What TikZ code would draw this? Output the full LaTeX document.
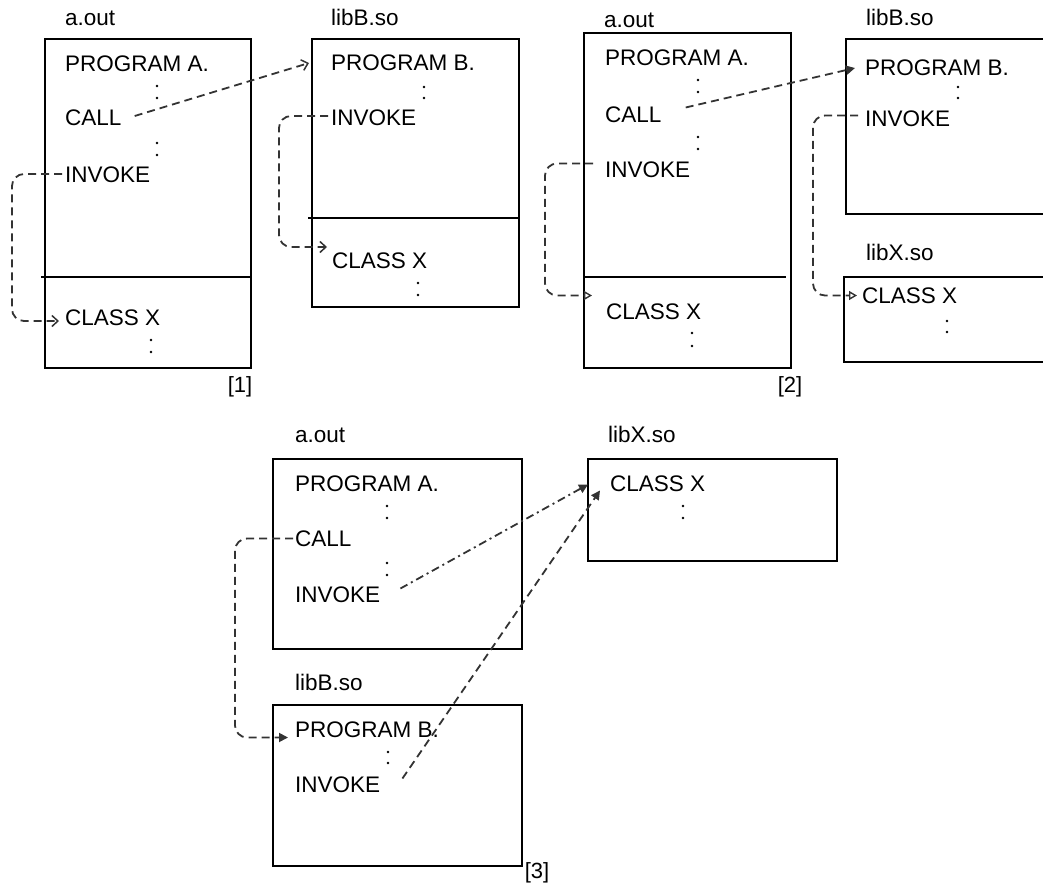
\documentclass[tikz,border=0pt]{standalone}
\usepackage{fontspec}
\setmainfont{Liberation Sans}
\usetikzlibrary{arrows.meta,calc}
\tikzset{
  txt/.style={inner sep=0pt, anchor=base west, text height=16pt, text depth=0pt, font=\fontsize{22.5}{27}\selectfont},
  lbl/.style={inner sep=0pt, anchor=center, font=\fontsize{22}{26}\selectfont},
  box/.style={draw=black, line width=1.9pt},
  conn/.style={draw=black!80, line width=1.8pt, dash pattern=on 8pt off 5pt},
  dashdotconn/.style={draw=black!80, line width=1.8pt, dash pattern=on 8pt off 4pt on 2pt off 4pt},
  elbow/.style={rounded corners=12pt},
  barb/.style={-{Straight Barb[length=6pt,width=11pt,line width=1.5pt]}},
  filltri/.style={-{Triangle[length=9pt,width=9pt]}},
  opentri/.style={-{Triangle[open,length=8pt,width=9pt,line width=1.4pt]}},
  dot/.style={fill=black}
}
\begin{document}
\begin{tikzpicture}[x=1pt,y=-1pt]
\useasboundingbox (0,0) rectangle (1043,885);

% ---------------- Block 1 ----------------
\draw[box] (45,39) rectangle (251,368);
\draw[box] (41,277) -- (251,277);
\draw[box] (312,39) rectangle (519,307);
\draw[box] (308,218) -- (519,218);

\node[txt] (a1lab) at (65,26) {a.out};
\node[txt] (b1lab) at (331,26) {libB.so};
\node[txt] (a1prog) at (65,71.5) {PROGRAM A.};
\node[txt] (a1call) at (65,126) {CALL};
\node[txt] (a1inv) at (65,183) {INVOKE};
\node[txt] (a1cls) at (65,325) {CLASS X};
\node[txt] (b1prog) at (331,71) {PROGRAM B.};
\node[txt] (b1inv) at (331,126) {INVOKE};
\node[txt] (b1cls) at (332,268) {CLASS X};
\node[lbl] (n1) at (240,387) {[1]};

\foreach \x/\y in {157/86,157/98,157/143,157/155,151/340,151/352,424/87,424/98,418/283,418/295}
  \fill[dot] (\x,\y) circle (1.4);

\draw[conn,barb] ($(a1call.east)+(13,-2)$) -- ($(b1prog.west)+(-22,0)$);
\draw[conn,barb,elbow] ($(b1inv.west)+(-3,-2)$) -- ++(-49,0) |- ($(b1cls.west)+(-5,-13)$);
\draw[conn,barb,elbow] ($(a1inv.west)+(-3,-1)$) -- ++(-50,0) |- ($(a1cls.west)+(-6,4)$);

% ---------------- Block 2 ----------------
\draw[box] (584,33) rectangle (791,368);
\draw[box] (584,277) -- (786,277);
\draw[box] (1044,39) -- (846,39) -- (846,214) -- (1044,214);
\draw[box] (1044,277) -- (844,277) -- (844,362) -- (1044,362);

\node[txt] (a2lab) at (604,27.5) {a.out};
\node[txt] (b2lab) at (866,26) {libB.so};
\node[txt] (x2lab) at (866,260) {libX.so};
\node[txt] (a2prog) at (605,65.5) {PROGRAM A.};
\node[txt] (a2call) at (605,122.5) {CALL};
\node[txt] (a2inv) at (605,177.5) {INVOKE};
\node[txt] (a2cls) at (606,319.5) {CLASS X};
\node[txt] (b2prog) at (865,76) {PROGRAM B.};
\node[txt] (b2inv) at (865,126.5) {INVOKE};
\node[txt] (x2cls) at (862,303.5) {CLASS X};
\node[lbl] (n2) at (790,387) {[2]};

\foreach \x/\y in {698/80,698/92,698/137,698/149,692/333,692/346,958/87,958/98,947/321,947/332}
  \fill[dot] (\x,\y) circle (1.4);

\draw[conn,filltri] ($(a2call.east)+(24,-7)$) -- ($(b2prog.west)+(-10,0)$);
\draw[conn,opentri,elbow] ($(a2inv.west)+(-12,-6)$) -- ++(-48,0) |- ($(a2cls.west)+(-14,-16)$);
\draw[conn,opentri,elbow] ($(b2inv.west)+(-7,-3)$) -- ++(-45,0) |- ($(x2cls.west)+(-5,0)$);

% ---------------- Block 3 ----------------
\draw[box] (273,459) rectangle (522,649);
\draw[box] (588,459) rectangle (837,561);
\draw[box] (273,705) rectangle (522,866);

\node[txt] (a3lab) at (295,442) {a.out};
\node[txt] (x3lab) at (608,442) {libX.so};
\node[txt] (b3lab) at (295,690) {libB.so};
\node[txt] (a3prog) at (295,491.5) {PROGRAM A.};
\node[txt] (a3call) at (295,546.5) {CALL};
\node[txt] (a3inv) at (295,602.5) {INVOKE};
\node[txt] (x3cls) at (610,491.5) {CLASS X};
\node[txt] (b3prog) at (295,737.5) {PROGRAM B.};
\node[txt] (b3inv) at (295,792.5) {INVOKE};
\node[lbl] (n3) at (537,873) {[3]};

\foreach \x/\y in {387/506,387/518,387/563,387/575,683/506,683/518,388/752,388/763}
  \fill[dot] (\x,\y) circle (1.4);

\draw[conn,filltri,elbow] ($(a3call.west)+(-2,0)$) -- ++(-58,0) |- ($(b3prog.west)+(-7,8)$);
\draw[dashdotconn,filltri] ($(a3inv.east)+(20,-6)$) -- ($(x3cls.west)+(-22,1)$);
\draw[conn,filltri] ($(b3inv.east)+(22,-6)$) -- ($(x3cls.west)+(-10,7)$);
\end{tikzpicture}
\end{document}
